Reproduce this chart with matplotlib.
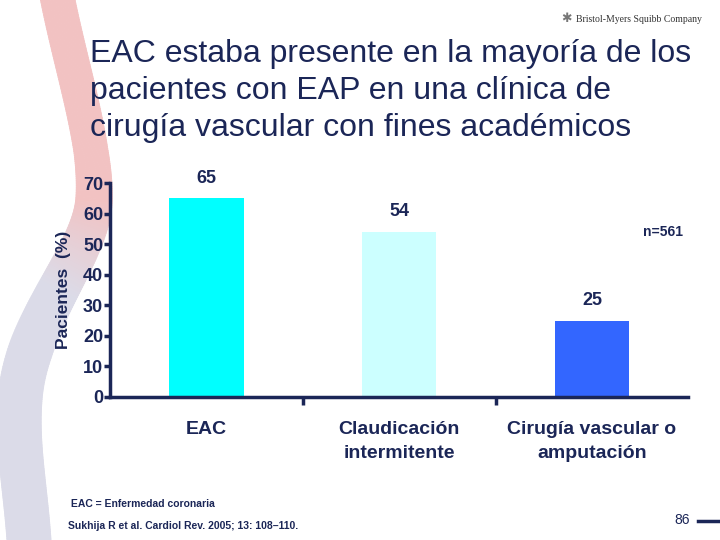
import numpy as np
import matplotlib.pyplot as plt
from matplotlib.collections import PolyCollection

plt.rcParams['font.family'] = ['Liberation Sans', 'DejaVu Sans']

NAVY = "#1b2657"

categories = ["EAC", "Claudicación\nintermitente", "Cirugía vascular o\namputación"]
values = [65, 54, 25]
bar_colors = ["#00ffff", "#ccffff", "#3366ff"]
y_ticks = [0, 10, 20, 30, 40, 50, 60, 70]

title = ("EAC estaba presente en la mayoría de los\n"
         "pacientes con EAP en una clínica de\n"
         "cirugía vascular con fines académicos")


def bezier(p0, p1, p2, p3, n=100):
    s = np.linspace(0, 1, n)[:, None]
    return ((1 - s) ** 3 * np.array(p0) + 3 * (1 - s) ** 2 * s * np.array(p1)
            + 3 * (1 - s) * s ** 2 * np.array(p2) + s ** 3 * np.array(p3))


fig = plt.figure(figsize=(7.2, 5.4), dpi=100)

# decorative swoosh on the left, pink at the top fading into grey
bg = fig.add_axes([0, 0, 1, 1], zorder=-1)
bg.set_xlim(0, 720)
bg.set_ylim(540, 0)
bg.axis("off")
pts = np.vstack([bezier((54, -20), (68, 60), (97, 140), (94, 200))[:-1],
                 bezier((94, 200), (91, 255), (25, 320), (20, 400))[:-1],
                 bezier((20, 400), (16, 450), (28, 500), (30, 560))])
d = np.gradient(pts, axis=0)
d /= np.linalg.norm(d, axis=1)[:, None]
normal = np.column_stack([-d[:, 1], d[:, 0]])
half = 17 + 5 * np.clip((pts[:, 1] - 150) / 200, 0, 1)
left = pts + normal * half[:, None]
right = pts - normal * half[:, None]
quads = [np.array([left[i], left[i + 1], right[i + 1], right[i]]) for i in range(len(pts) - 1)]
ymid = (pts[:-1, 1] + pts[1:, 1]) / 2
pink = np.array([0.95, 0.76, 0.76])
grey = np.array([0.86, 0.86, 0.91])
mix = np.clip((ymid - 200) / 90, 0, 1)[:, None]
cols = pink * (1 - mix) + grey * mix
bg.add_collection(PolyCollection(quads, facecolors=cols, edgecolors=cols, linewidths=0.6))

ax = fig.add_axes([0.153, 0.265, 0.803, 0.396])
x = np.arange(len(categories))
bars = ax.bar(x, values, width=0.385, color=bar_colors)

ax.set_xlim(-0.5, 2.5)
ax.set_ylim(0, 70)
ax.set_yticks(y_ticks)
ax.set_yticklabels([str(v) for v in y_ticks], fontsize=13, fontweight="bold", color=NAVY)
ax.set_xticks(x)
ax.set_xticklabels(categories, fontsize=14, fontweight="bold", color=NAVY, linespacing=1.6)
ax.set_xticks([0.5, 1.5], minor=True)
ax.tick_params(axis="x", which="major", length=0, pad=17)
ax.tick_params(axis="x", which="minor", length=6, width=2.5, color=NAVY, direction="out")
ax.tick_params(axis="y", length=4, width=2.5, color=NAVY, direction="out", pad=1)

for side in ["top", "right"]:
    ax.spines[side].set_visible(False)
for side in ["left", "bottom"]:
    ax.spines[side].set_color(NAVY)
    ax.spines[side].set_linewidth(2.5)
ax.patch.set_alpha(0)

ax.set_ylabel("Pacientes  (%)", fontsize=12.5, fontweight="bold", color=NAVY, labelpad=9)

for rect, v in zip(bars, values):
    ax.annotate(str(v), (rect.get_x() + rect.get_width() / 2, v),
                xytext=(0, 14.5), textcoords="offset points",
                ha="center", va="center", fontsize=13, fontweight="bold", color=NAVY)

ax.text(0.991, 0.771, "n=561", transform=ax.transAxes, ha="right", va="center",
        fontsize=10, fontweight="bold", color=NAVY)

fig.text(90 / 720, 1 - 39 / 540, title, ha="left", va="top", fontsize=23,
         color=NAVY, linespacing=1.3)

fig.text(566 / 720, 1 - 19 / 540, "✱", ha="center", va="center", fontsize=9,
         family="DejaVu Sans", color="#777777")
fig.text(576 / 720, 1 - 19 / 540, "Bristol-Myers Squibb Company", ha="left", va="center",
         fontsize=7, family="Liberation Serif", color="#333333")

fig.text(68 / 720, 1 - 515 / 540, " EAC = Enfermedad coronaria\nSukhija R et al. Cardiol Rev. 2005; 13: 108–110.",
         ha="left", va="center", fontsize=7.5, fontweight="bold", color=NAVY, linespacing=2.5)

fig.text(690 / 720, 1 - 520 / 540, "86", ha="right", va="center", fontsize=10, color=NAVY)
bg.plot([698, 720], [521, 521], color=NAVY, lw=2.5)

fig.savefig("out.png", dpi=100)
